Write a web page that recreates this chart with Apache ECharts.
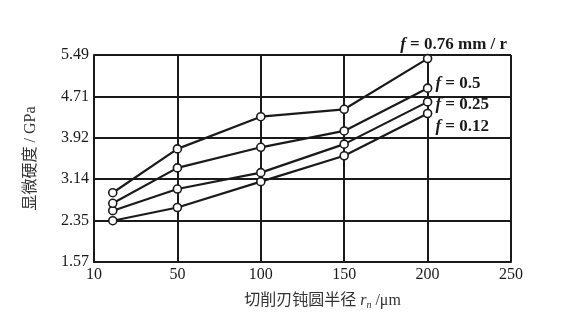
<!DOCTYPE html>
<html><head><meta charset="utf-8">
<script src="https://cdn.jsdelivr.net/npm/echarts@6/dist/echarts.min.js"></script>
<style>html,body{margin:0;padding:0;background:#fff}#c{width:566px;height:323px}</style>
</head><body><div id="c"></div>
<script>
// x tick labels (cutting edge radius r_n, µm) – equally spaced on the original chart
const xTicks = [10, 50, 100, 150, 200, 250];
// y tick labels (GPa)
const yTicks = ['1.57', '2.35', '3.14', '3.92', '4.71', '5.49'];
// measured r_n values
const rn = [19, 50, 100, 150, 200];
// microhardness (GPa) per feed
const f076 = [2.88, 3.71, 4.32, 4.46, 5.42];
const f05  = [2.68, 3.35, 3.74, 4.05, 4.86];
const f025 = [2.54, 2.95, 3.26, 3.80, 4.60];
const f012 = [2.35, 2.60, 3.09, 3.58, 4.38];
const seriesNames = ['f = 0.76 mm / r', 'f = 0.5', 'f = 0.25', 'f = 0.12'];

// piecewise mapping of r_n onto the equally spaced tick scale
function xPos(r){
  for (let i = 0; i < xTicks.length - 1; i++) {
    if (r <= xTicks[i+1]) return i + (r - xTicks[i]) / (xTicks[i+1] - xTicks[i]);
  }
  return xTicks.length - 1;
}
const Y0 = 1.568, YSTEP = 0.784;
const font = '"Liberation Serif","Noto Sans CJK SC",serif';
const ink = '#1a1a1a';
const labelOffsets = [[26, 4], [0, -5], [0, 3], [0, 13]];

function makeSeries(vals, name, idx){
  const data = vals.map((v, i) => [xPos(rn[i]), v]);
  const last = data.length - 1;
  const lbl = idx === 0
    ? {show: true, position: 'top', offset: labelOffsets[0], formatter: '{i|f} = 0.76 mm / r'}
    : {show: true, position: 'right', distance: 3, offset: labelOffsets[idx], formatter: '{i|f} ' + name.slice(2)};
  data[last] = {value: data[last], label: Object.assign(lbl, {
    color: ink, fontSize: 17, fontFamily: font, fontWeight: 'bold',
    rich: {i: {fontStyle: 'italic', fontSize: 17, fontFamily: font, color: ink, fontWeight: 'bold'}}
  })};
  return {
    type: 'line', name, data, symbol: 'circle', symbolSize: 8,
    itemStyle: {color: '#fff', borderColor: ink, borderWidth: 1.6},
    lineStyle: {color: ink, width: 2.2},
    label: {show: false}, z: 5 - idx
  };
}

const chart = echarts.init(document.getElementById('c'));
chart.setOption({
  animation: false,
  backgroundColor: '#fff',
  grid: {left: 94, right: 55, top: 55, bottom: 61},
  xAxis: {
    type: 'value', min: 0, max: xTicks.length - 1, interval: 1,
    name: '切削刃钝圆半径 {i|r}{s|n} /μm', nameLocation: 'middle', nameGap: 30,
    nameTextStyle: {color: '#333', fontSize: 16, fontFamily: font, padding: [0, 0, 0, 40],
      rich: {i: {fontStyle: 'italic', fontSize: 16, fontFamily: font, color: '#333'},
             s: {fontStyle: 'italic', fontSize: 10, fontFamily: font, color: '#333', padding: [8,0,0,0]}}},
    axisLine: {lineStyle: {color: ink, width: 2}},
    axisTick: {show: false},
    axisLabel: {color: ink, fontSize: 16, fontFamily: font, margin: 5,
      formatter: v => String(xTicks[Math.round(v)])},
    splitLine: {show: true, lineStyle: {color: ink, width: 2}}
  },
  yAxis: {
    type: 'value', min: Y0, max: Y0 + YSTEP * 5, interval: YSTEP,
    name: '显微硬度 / GPa', nameLocation: 'middle', nameGap: 55,
    nameTextStyle: {color: '#333', fontSize: 16, fontFamily: font, padding: [0, 0, 0, 0]},
    axisLine: {show: true, lineStyle: {color: ink, width: 2}},
    axisTick: {show: false},
    axisLabel: {color: ink, fontSize: 16, fontFamily: font, margin: 5,
      formatter: v => yTicks[Math.round((v - Y0) / YSTEP)]},
    splitLine: {show: true, lineStyle: {color: ink, width: 2}}
  },
  series: [
    makeSeries(f076, seriesNames[0], 0),
    makeSeries(f05, seriesNames[1], 1),
    makeSeries(f025, seriesNames[2], 2),
    makeSeries(f012, seriesNames[3], 3)
  ]
});
</script></body></html>
